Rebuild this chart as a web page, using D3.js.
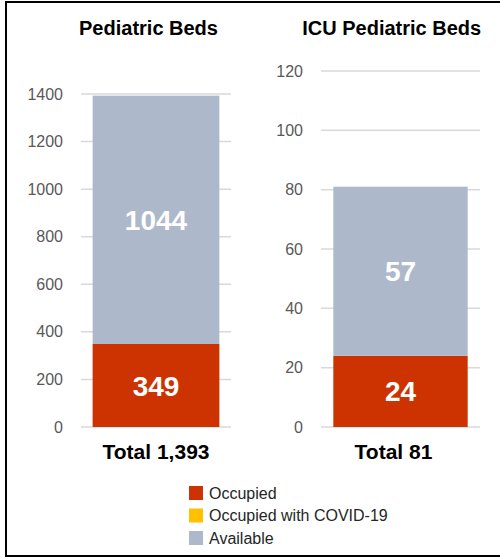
<!DOCTYPE html>
<html><head><meta charset="utf-8">
<script src="https://cdn.jsdelivr.net/npm/d3@7"></script>
<style>body{margin:0;background:#fff}svg{display:block}text{font-family:"Liberation Sans",Arial,sans-serif}</style>
</head><body>
<script>
const charts = ["Pediatric Beds", "ICU Pediatric Beds"];
const occupied = [349, 24];
const occupiedCovid = [0, 0];
const available = [1044, 57];
const totals = ["Total 1,393", "Total 81"];
const yMax = [1400, 120];
const tickStep = [200, 20];
const legendLabels = ["Occupied", "Occupied with COVID-19", "Available"];
const colors = ["#CC3300", "#FFC000", "#ADB9CA"];

const W = 500, H = 558;
const svg = d3.select("body").append("svg").attr("width", W).attr("height", H);
svg.append("rect").attr("x", 6).attr("y", 2).attr("width", 520).attr("height", 554)
  .attr("fill", "none").attr("stroke", "#000").attr("stroke-width", 2);

const panels = [
  {gx: [81, 231], yTop: 94, titleX: 148.5, labelX: 63, totalDx: 0},
  {gx: [321, 480], yTop: 71, titleX: 391.7, labelX: 303, totalDx: -7}
];
const y0 = 427;

panels.forEach((p, i) => {
  const g = svg.append("g");
  const y = d3.scaleLinear().domain([0, yMax[i]]).range([y0, p.yTop]);
  const x = d3.scaleBand().domain([charts[i]]).range(p.gx).padding(0.084);
  const ticks = d3.range(0, yMax[i] + 1, tickStep[i]);
  g.selectAll("line.grid").data(ticks).join("line")
    .attr("x1", p.gx[0]).attr("x2", p.gx[1])
    .attr("y1", d => y(d)).attr("y2", d => y(d))
    .attr("stroke", "#D9D9D9").attr("stroke-width", 1.5);
  g.selectAll("text.tick").data(ticks).join("text")
    .attr("x", p.labelX).attr("y", d => y(d)).attr("dy", "0.35em")
    .attr("text-anchor", "end").attr("font-size", 16).attr("fill", "#595959")
    .text(d => d);
  const segs = [occupied[i], occupiedCovid[i], available[i]];
  let acc = 0;
  segs.forEach((v, k) => {
    const b = acc; acc += v;
    if (v <= 0) return;
    g.append("rect").attr("x", x(charts[i])).attr("width", x.bandwidth())
      .attr("y", y(acc)).attr("height", y(b) - y(acc)).attr("fill", colors[k]);
    g.append("text").attr("x", x(charts[i]) + x.bandwidth() / 2)
      .attr("y", (y(acc) + y(b)) / 2).attr("dy", "0.36em")
      .attr("text-anchor", "middle").attr("font-size", 28).attr("font-weight", "bold")
      .attr("fill", "#fff").text(v);
  });
  g.append("text").attr("x", p.titleX).attr("y", 35).attr("text-anchor", "middle")
    .attr("font-size", 20).attr("font-weight", "bold").attr("fill", "#000").text(charts[i]);
  g.append("text").attr("x", x(charts[i]) + x.bandwidth() / 2 + p.totalDx).attr("y", 459)
    .attr("text-anchor", "middle").attr("font-size", 21).attr("font-weight", "bold")
    .attr("fill", "#000").text(totals[i]);
});

const lg = svg.append("g");
legendLabels.forEach((l, k) => {
  const ly = 486 + k * 22.5;
  lg.append("rect").attr("x", 189).attr("y", ly).attr("width", 14).attr("height", 14).attr("fill", colors[k]);
  lg.append("text").attr("x", 209).attr("y", ly + 7).attr("dy", "0.35em")
    .attr("font-size", 16).attr("fill", "#262626").text(l);
});
</script>
</body></html>
